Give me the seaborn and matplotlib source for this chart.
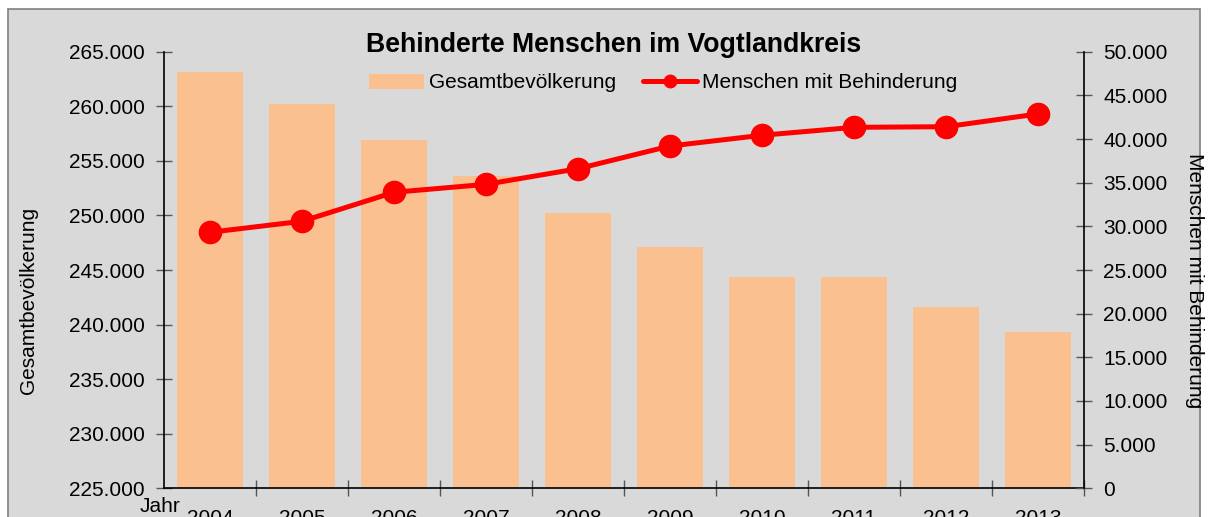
import matplotlib
matplotlib.use("Agg")
import matplotlib.pyplot as plt
import matplotlib.ticker as mticker
from matplotlib.patches import Rectangle
from matplotlib.lines import Line2D
import seaborn as sns

# Daten
jahre = ['2004', '2005', '2006', '2007', '2008', '2009', '2010', '2011', '2012', '2013']
gesamtbevoelkerung = [263110, 260180, 256940, 253610, 250200, 247140, 244360, 244360, 241610, 239350]
behinderte = [29320, 30580, 33900, 34810, 36600, 39200, 40430, 41340, 41410, 42870]

balken_farbe = '#fac090'
linien_farbe = '#ff0000'
hintergrund = '#d9d9d9'

sns.set_style('white')
plt.rcParams['font.family'] = ['Liberation Sans', 'DejaVu Sans']
for k in ('text.color', 'axes.labelcolor', 'xtick.color', 'ytick.color'):
    plt.rcParams[k] = 'black'

fig = plt.figure(figsize=(12.08, 5.17), dpi=100, facecolor='white')
# grauer Diagrammbereich mit Rahmen
fig.patches.append(Rectangle((8 / 1208, -0.1), 1192 / 1208, 1.1 - 9 / 517,
                             transform=fig.transFigure, facecolor=hintergrund,
                             edgecolor='#7f7f7f', linewidth=1.2, zorder=-5))

ax = fig.add_axes([164 / 1208, 1 - 488.3 / 517, 920 / 1208, 436.6 / 517])
ax.patch.set_alpha(0)

sns.barplot(x=jahre, y=gesamtbevoelkerung, color=balken_farbe, saturation=1,
            width=0.72, linewidth=0, ax=ax, zorder=2)
ax.set_ylim(225000, 265000)
ax.set_xlim(-0.5, len(jahre) - 0.5)

ax2 = ax.twinx()
ax2.patch.set_alpha(0)
ax2.plot(range(len(jahre)), behinderte, color=linien_farbe, linewidth=3.6,
         marker='o', markersize=16, zorder=3)
ax2.set_ylim(0, 50000)

fmt = mticker.FuncFormatter(lambda v, p: f"{int(round(v)):,}".replace(',', '.'))
ax.yaxis.set_major_locator(mticker.MultipleLocator(5000))
ax.yaxis.set_major_formatter(fmt)
ax2.yaxis.set_major_locator(mticker.MultipleLocator(5000))
ax2.yaxis.set_major_formatter(fmt)

for a in (ax, ax2):
    for s in a.spines.values():
        s.set_visible(False)
ax.spines['left'].set_visible(True)
ax.spines['bottom'].set_visible(True)
ax2.spines['right'].set_visible(True)
for s in (ax.spines['left'], ax.spines['bottom'], ax2.spines['right']):
    s.set_color('black')
    s.set_linewidth(1.2)

ax.tick_params(axis='y', direction='inout', length=12, width=1, color='#555555',
               labelsize=15, pad=8, left=True)
ax2.tick_params(axis='y', direction='inout', length=12, width=1, color='#555555',
                labelsize=15, pad=8, right=True)

# Kategorie-Ticks zwischen den Balken
ax.set_xticks(range(len(jahre)))
ax.set_xticklabels(jahre, fontsize=15)
ax.tick_params(axis='x', which='major', length=0, pad=15)
ax.set_xticks([i + 0.5 for i in range(len(jahre))], minor=True)
ax.tick_params(axis='x', which='minor', direction='inout', length=12, width=1,
               color='#555555', bottom=True)

ax.set_ylabel('Gesamtbevölkerung', fontsize=15)
ax.yaxis.set_label_coords(-0.137, 0.43)
ax2.set_ylabel('Menschen mit Behinderung', fontsize=15, rotation=270, va='bottom')
ax2.yaxis.set_label_coords(1.11, 0.476)
ax.set_xlabel('')
fig.text(140 / 1208, 1 - 512 / 517, 'Jahr', fontsize=15, ha='left', va='baseline')

fig.text(614 / 1208, 1 - 45 / 517, 'Behinderte Menschen im Vogtlandkreis', fontsize=19.2,
         fontweight='bold', ha='center', va='center')

handles = [Rectangle((0, 0), 1, 1, facecolor=balken_farbe, edgecolor='none'),
           Line2D([], [], color=linien_farbe, linewidth=3.6, marker='o', markersize=9)]
fig.legend(handles, ['Gesamtbevölkerung', 'Menschen mit Behinderung'],
           loc='center', bbox_to_anchor=(663.5 / 1208, 1 - 83 / 517), ncol=2, frameon=False,
           fontsize=15, handlelength=2.6, handletextpad=0.25, columnspacing=1.3)

fig.savefig('out.png', dpi=100, facecolor='white')
